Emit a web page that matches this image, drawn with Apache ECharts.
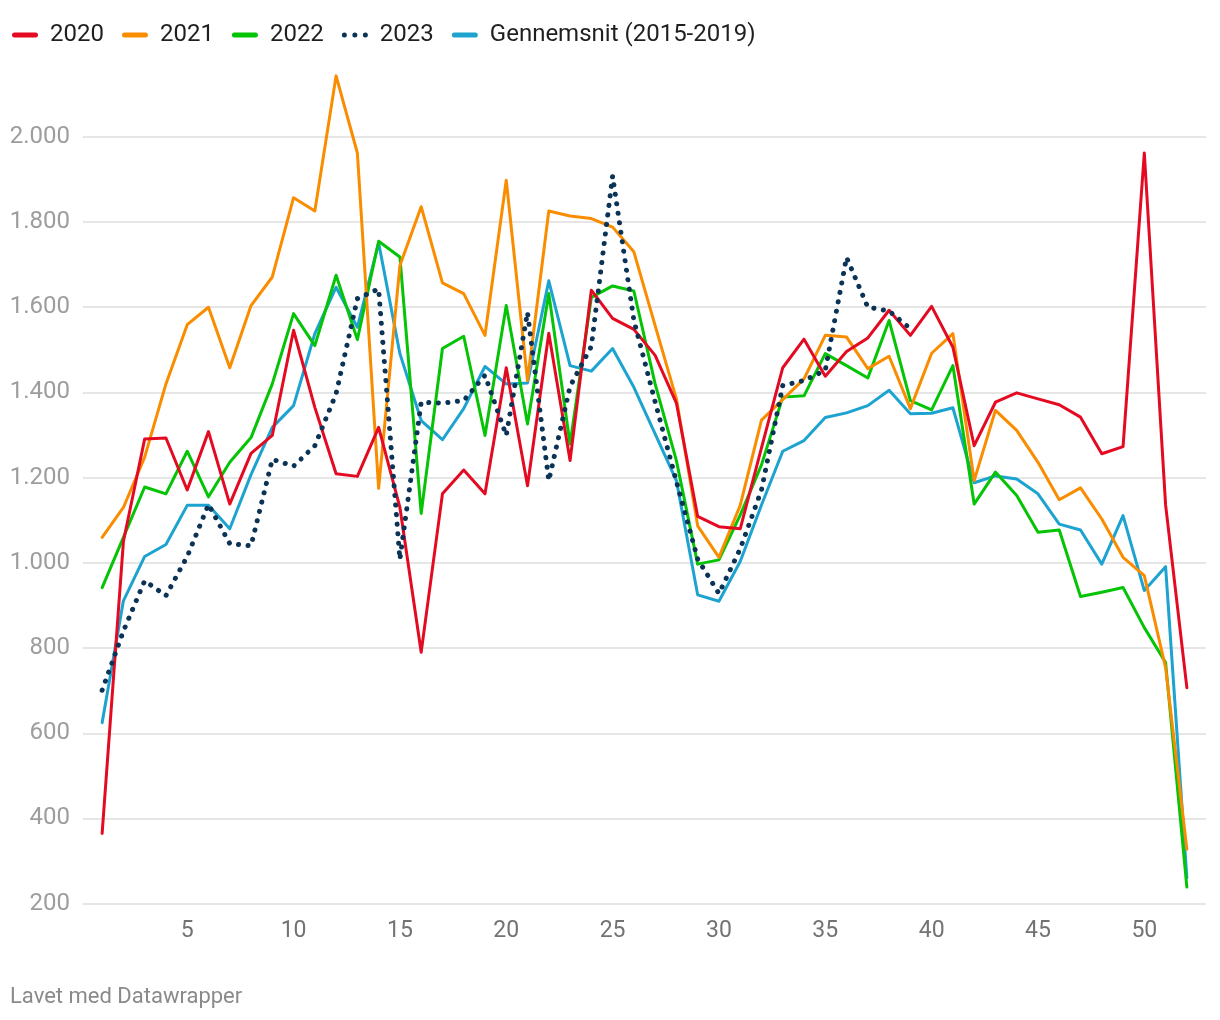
<!DOCTYPE html>
<html>
<head>
<meta charset="utf-8">
<script src="https://cdn.jsdelivr.net/npm/echarts@6/dist/echarts.min.js"></script>
<style>
  html, body { margin: 0; padding: 0; background: #fff; }
  #chart { width: 1220px; height: 1020px; }
</style>
</head>
<body>
<div id="chart"></div>
<script>
// ---- Data (weekly values, week 1..52) ----
const weeks = Array.from({length: 52}, (_, i) => i + 1);
const xTickLabels = [5, 10, 15, 20, 25, 30, 35, 40, 45, 50];
const yTickValues = [200, 400, 600, 800, 1000, 1200, 1400, 1600, 1800, 2000];

const seriesNames = ['2020', '2021', '2022', '2023', 'Gennemsnit (2015-2019)'];

const v2020 = [365, 1050, 1291, 1293, 1171, 1308, 1138, 1257, 1299, 1546,
               1365, 1209, 1203, 1318, 1130, 790, 1162, 1218, 1162, 1458,
               1181, 1539, 1240, 1640, 1574, 1548, 1487, 1375, 1109, 1085,
               1080, 1270, 1458, 1525, 1438, 1496, 1528, 1593, 1534, 1602,
               1506, 1275, 1377, 1399, 1385, 1371, 1342, 1256, 1273, 1962,
               1136, 707];
const v2021 = [1060, 1130, 1248, 1420, 1559, 1600, 1458, 1604, 1671, 1857,
               1826, 2143, 1962, 1175, 1698, 1836, 1657, 1632, 1534, 1898,
               1428, 1826, 1814, 1808, 1788, 1730, 1557, 1385, 1087, 1013,
               1135, 1335, 1383, 1432, 1534, 1530, 1456, 1485, 1362, 1492,
               1538, 1193, 1358, 1311, 1236, 1148, 1176, 1103, 1013, 970,
               754, 328];
const v2022 = [942, 1060, 1178, 1162, 1262, 1155, 1236, 1294, 1420, 1585,
               1510, 1675, 1524, 1755, 1718, 1116, 1503, 1532, 1299, 1604,
               1326, 1632, 1279, 1623, 1650, 1638, 1420, 1240, 997, 1007,
               1112, 1230, 1389, 1392, 1491, 1463, 1434, 1569, 1381, 1359,
               1463, 1138, 1213, 1158, 1072, 1077, 921, 931, 942, 848,
               766, 239];
const v2023 = [701, 840, 958, 923, 1015, 1137, 1045, 1040, 1243, 1227,
               1275, 1397, 1620, 1643, 1008, 1377, 1375, 1381, 1440, 1299,
               1588, 1193, 1414, 1508, 1908, 1569, 1378, 1191, 1009, 928,
               1033, 1171, 1416, 1428, 1452, 1717, 1600, 1591, 1550];
const vAvg  = [625, 911, 1015, 1043, 1135, 1135, 1080, 1207, 1318, 1369,
               1538, 1647, 1553, 1751, 1491, 1334, 1289, 1362, 1461, 1420,
               1422, 1662, 1463, 1450, 1503, 1412, 1303, 1193, 925, 910,
               1003, 1136, 1262, 1287, 1341, 1352, 1369, 1405, 1350, 1351,
               1364, 1188, 1204, 1197, 1162, 1091, 1077, 997, 1111, 935,
               991, 261];

const colors = {
  '2020': '#e30a22',
  '2021': '#fa8c00',
  '2022': '#05c305',
  '2023': '#0b3356',
  'Gennemsnit (2015-2019)': '#1ca3d0'
};

function pairs(vals) { return vals.map((v, i) => [weeks[i], v]); }

function fmtThousands(v) {
  return String(v).replace(/\B(?=(\d{3})+(?!\d))/g, '.');
}

function lineSeries(name, vals, extra) {
  return Object.assign({
    name: name,
    type: 'line',
    data: pairs(vals),
    showSymbol: false,
    symbol: 'none',
    silent: true,
    lineStyle: { color: colors[name], width: 3, join: 'round', cap: 'round' },
    itemStyle: { color: colors[name] },
    emphasis: { disabled: true }
  }, extra || {});
}

// legend icons: a thick rounded bar, and three round dots for 2023
const barIcon = 'path://M2.5,0 L23.5,0 A2.5,2.5 0 0 1 23.5,5 L2.5,5 A2.5,2.5 0 0 1 2.5,0 Z';
const dotsIcon = 'path://M0,2.5 A2.5,2.5 0 1 0 5,2.5 A2.5,2.5 0 1 0 0,2.5 Z ' +
                 'M10.5,2.5 A2.5,2.5 0 1 0 15.5,2.5 A2.5,2.5 0 1 0 10.5,2.5 Z ' +
                 'M21,2.5 A2.5,2.5 0 1 0 26,2.5 A2.5,2.5 0 1 0 21,2.5 Z';

const chart = echarts.init(document.getElementById('chart'), null, { renderer: 'canvas' });

const gridLineColors = yTickValues.map(() => '#e6e6e6').concat(['rgba(0,0,0,0)']);

chart.setOption({
  animation: false,
  backgroundColor: '#ffffff',
  textStyle: { fontFamily: 'Roboto' },
  legend: {
    data: seriesNames.map(n => ({
      name: n,
      icon: n === '2023' ? dotsIcon : barIcon,
      itemStyle: { color: colors[n], borderWidth: 0 }
    })),
    left: 7,
    top: 18,
    itemWidth: 26,
    itemHeight: 5,
    itemGap: 18,
    selectedMode: false,
    textStyle: { fontFamily: 'Roboto', fontSize: 24, color: '#1f1f1f', padding: [0, 0, 0, 7] }
  },
  grid: { left: 83, right: 14, top: 51.6, bottom: 116.3, containLabel: false },
  xAxis: {
    type: 'value',
    min: 0.1,
    max: 52.9,
    axisLine: { show: false },
    axisTick: { show: false },
    splitLine: { show: false },
    axisLabel: {
      customValues: xTickLabels,
      margin: 16,
      fontFamily: 'Roboto',
      fontSize: 23,
      color: '#737373'
    }
  },
  yAxis: {
    type: 'value',
    min: 200,
    max: 2200,
    interval: 200,
    axisLine: { show: false },
    axisTick: { show: false },
    splitLine: {
      show: true,
      showMaxLine: false,
      lineStyle: { color: gridLineColors, width: 2 }
    },
    axisLabel: {
      margin: 13,
      fontFamily: 'Roboto',
      fontSize: 24,
      color: '#9d9d9d',
      formatter: function (v) { return v >= 2200 ? '' : fmtThousands(v); }
    }
  },
  graphic: [{
    type: 'text',
    left: 10,
    top: 986,
    style: { text: 'Lavet med Datawrapper', fontFamily: 'Roboto', fontSize: 22, fill: '#8a8a8a' }
  }],
  series: [
    lineSeries('Gennemsnit (2015-2019)', vAvg),
    lineSeries('2022', v2022),
    lineSeries('2021', v2021),
    lineSeries('2020', v2020),
    lineSeries('2023', v2023, {
      lineStyle: { color: colors['2023'], width: 5, type: [0.1, 9.5], cap: 'round', join: 'round' }
    })
  ]
});
</script>
</body>
</html>
